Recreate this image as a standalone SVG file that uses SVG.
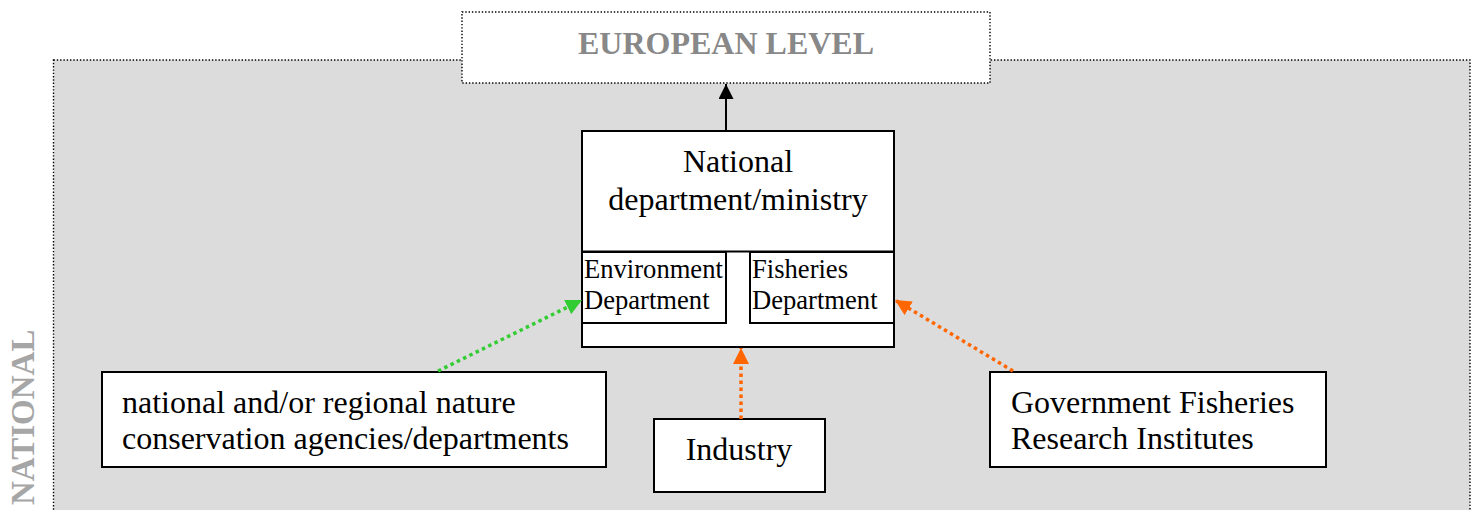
<svg xmlns="http://www.w3.org/2000/svg" width="1477" height="510" viewBox="0 0 1477 510">
  <style>
    .zone { stroke: #000; stroke-width: 1.4; stroke-dasharray: 1.4 1.9; }
    .box { fill: #fff; stroke: #000; stroke-width: 2; }
    .lbl { font-family: "Liberation Serif", "Times New Roman", serif; font-size: 32px; fill: #000; }
    .sub { font-family: "Liberation Serif", "Times New Roman", serif; font-size: 26.6px; fill: #000; }
    .level { font-family: "Liberation Serif", "Times New Roman", serif; font-size: 32px; font-weight: bold; }
    .dot { fill: none; stroke-width: 3.5; stroke-dasharray: 3.5 3.5; }
  </style>
  <defs>
    <marker id="headBlack" markerUnits="userSpaceOnUse" markerWidth="16" markerHeight="16" refX="15" refY="7.5" orient="auto">
      <path d="M0,0 L15,7.5 L0,15 z" fill="#000"/>
    </marker>
    <marker id="headOrange" markerUnits="userSpaceOnUse" markerWidth="18" markerHeight="18" refX="16" refY="8" orient="auto">
      <path d="M0,0 L16,8 L0,16 z" fill="#ff6600"/>
    </marker>
    <marker id="headGreen" markerUnits="userSpaceOnUse" markerWidth="18" markerHeight="18" refX="16" refY="8" orient="auto">
      <path d="M0,0 L16,8 L0,16 z" fill="#33cc33"/>
    </marker>
  </defs>

  <rect width="1477" height="510" fill="#fff"/>

  <!-- national level zone -->
  <g id="national-zone">
    <rect class="zone" x="53.5" y="60" width="1416.5" height="460" fill="#dcdcdc"/>
    <text class="level" fill="#a6a6a6" font-size="33" transform="translate(34,505) rotate(-90)" style="font-size:33px">NATIONAL</text>
  </g>

  <!-- european level -->
  <g id="european-level">
    <rect class="zone" x="462" y="12" width="528" height="71" fill="#fff"/>
    <text class="level" fill="#888" x="726" y="54" text-anchor="middle">EUROPEAN LEVEL</text>
  </g>

  <!-- national ministry with its two departments -->
  <g id="ministry">
    <rect class="box" x="582" y="131" width="312" height="216"/>
    <line x1="582" y1="251.5" x2="894" y2="251.5" stroke="#000" stroke-width="2"/>
    <text class="lbl" x="738" y="172" text-anchor="middle">National</text>
    <text class="lbl" x="738" y="210" text-anchor="middle">department/ministry</text>
  </g>
  <g id="environment-dept">
    <rect class="box" x="582" y="252" width="144" height="71"/>
    <text class="sub" x="584" y="278">Environment</text>
    <text class="sub" x="584" y="309">Department</text>
  </g>
  <g id="fisheries-dept">
    <rect class="box" x="750" y="252" width="144" height="71"/>
    <text class="sub" x="752" y="278">Fisheries</text>
    <text class="sub" x="752" y="309">Department</text>
  </g>

  <g id="nature-agencies">
    <rect class="box" x="102" y="372" width="504" height="95"/>
    <text class="lbl" x="122" y="413">national and/or regional nature</text>
    <text class="lbl" x="122" y="449">conservation agencies/departments</text>
  </g>

  <g id="industry">
    <rect class="box" x="654" y="419" width="171" height="73"/>
    <text class="lbl" x="739" y="460" text-anchor="middle">Industry</text>
  </g>

  <g id="research-institutes">
    <rect class="box" x="990" y="372" width="336" height="95"/>
    <text class="lbl" x="1011" y="413">Government Fisheries</text>
    <text class="lbl" x="1011" y="449">Research Institutes</text>
  </g>

  <!-- connectors -->
  <g id="connectors">
    <line x1="726" y1="131" x2="726" y2="84" stroke="#000" stroke-width="2" marker-end="url(#headBlack)"/>
    <line class="dot" x1="741" y1="419" x2="741" y2="348" stroke="#ff6600" marker-end="url(#headOrange)"/>
    <line class="dot" x1="438" y1="371" x2="582" y2="300" stroke="#33cc33" marker-end="url(#headGreen)"/>
    <line class="dot" x1="1013" y1="371" x2="895" y2="300" stroke="#ff6600" marker-end="url(#headOrange)"/>
  </g>
</svg>
